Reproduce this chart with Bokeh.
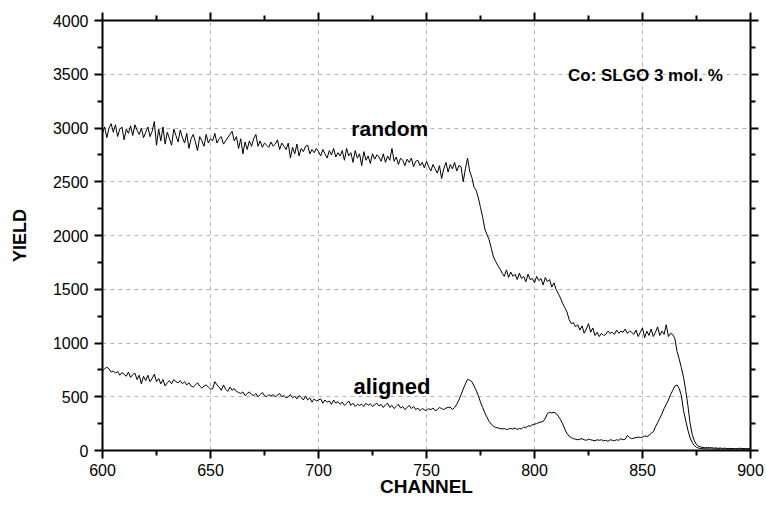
from bokeh.plotting import figure
from bokeh.models import LinearAxis, FixedTicker, Label, Range1d, CustomJSTickFormatter
from bokeh.embed import file_html
from bokeh.resources import INLINE

# RBS spectra of Co-implanted SLGO: random and channeling-aligned yield per channel
channel_start = 600
random_yield = [
    2950, 3010, 2910, 3000, 3040, 2960, 3030, 2920, 2990, 3010,
    2890, 2990, 2950, 3020, 2930, 3030, 2980, 2940, 3000, 2910,
    2960, 3010, 2920, 2970, 3060, 2840, 2990, 2880, 3010, 2850,
    2960, 2900, 2840, 2990, 2930, 2870, 2980, 2910, 2860, 2950,
    2810, 2900, 2940, 2870, 2790, 2920, 2880, 2830, 2940, 2860,
    2900, 2880, 2950, 2860, 2900, 2920, 2850, 2880, 2910, 2940,
    2970, 2880, 2920, 2810, 2900, 2760, 2870, 2800, 2880, 2830,
    2900, 2940, 2830, 2880, 2820, 2860, 2840, 2820, 2870, 2830,
    2850, 2890, 2800, 2860, 2830, 2800, 2860, 2720, 2820, 2760,
    2850, 2740, 2810, 2780, 2830, 2840, 2760, 2800, 2770, 2810,
    2780, 2740, 2800, 2760, 2720, 2790, 2750, 2810, 2730, 2770,
    2740, 2790, 2700, 2810, 2740, 2770, 2680, 2790, 2720, 2760,
    2650, 2780, 2700, 2740, 2670, 2760, 2710, 2750, 2730, 2690,
    2760, 2680, 2740, 2700, 2810, 2690, 2730, 2660, 2720, 2700,
    2650, 2710, 2680, 2720, 2640, 2690, 2700, 2650, 2680, 2630,
    2690, 2640, 2600, 2660, 2620, 2580, 2650, 2530, 2620, 2680,
    2590, 2660, 2620, 2680, 2600, 2650, 2640, 2500, 2620, 2720,
    2600, 2540, 2450, 2420, 2350, 2260, 2170, 2060, 2010, 1960,
    1880, 1800, 1760, 1720, 1690, 1650, 1620, 1680, 1610, 1660,
    1620, 1640, 1590, 1650, 1600, 1620, 1570, 1640, 1590, 1600,
    1560, 1620, 1580, 1600, 1540, 1610, 1570, 1590, 1520, 1560,
    1500, 1460, 1420, 1370, 1330, 1290, 1220, 1180, 1190, 1150,
    1170, 1120, 1160, 1090, 1130, 1180, 1100, 1140, 1070, 1100,
    1060, 1090, 1070, 1080, 1110, 1090, 1100, 1080, 1120, 1090,
    1110, 1100, 1130, 1090, 1110, 1100, 1080, 1120, 1060, 1100,
    1140, 1050, 1110, 1070, 1130, 1060, 1100, 1150, 1070, 1110,
    1080, 1170, 1060, 1090, 1080, 1040, 920, 850, 770, 680,
    560, 420, 260, 150, 90, 55, 40, 32, 28, 25,
    28, 25, 27, 22, 24, 20, 23, 19, 22, 18,
    20, 17, 19, 16, 18, 21, 17, 19, 15, 18,
    17,
]
aligned_yield = [
    740, 760, 775, 760, 730, 740, 720, 735, 700, 725,
    710, 690, 730, 680, 705, 720, 660, 700, 620, 690,
    650, 700, 640, 670, 710, 640, 670, 620, 660, 600,
    630, 650, 620, 660, 640, 630, 650, 620, 640, 610,
    630, 600, 590, 610, 630, 600, 580, 600, 610, 590,
    570, 575, 640, 610, 590, 560, 610, 570, 550, 590,
    560, 575, 550, 540, 530, 545, 510, 530, 545, 520,
    510, 530, 500, 520, 540, 510, 500, 520, 505, 520,
    500, 515, 530, 500, 510, 490, 500, 520, 490, 505,
    480, 510, 495, 470, 505, 470, 490, 450, 480, 460,
    470, 480, 440, 470, 450, 460, 430, 470, 440, 455,
    430, 450, 420, 440, 460, 420, 440, 410, 430, 420,
    430, 410, 440, 420, 435, 410, 425, 440, 415, 430,
    400, 425, 440, 400, 420, 390, 410, 430, 395, 410,
    380, 400, 420, 390, 410, 380, 395, 370, 390, 380,
    370, 390, 380, 395, 370, 380, 400, 390, 380, 395,
    400, 405, 380, 400, 430, 470, 520, 570, 620, 660,
    655, 640, 600, 560, 510, 450, 400, 350, 310, 270,
    245, 225, 215, 210, 205, 200, 205, 195, 200, 205,
    200, 210, 195, 205, 200, 220, 210, 230, 225, 240,
    245, 250, 260, 265, 270, 300, 345, 355, 350, 355,
    345, 320, 290, 250, 200, 160, 135, 120, 110, 105,
    100, 105, 110, 100, 95, 105, 100, 95, 90, 100,
    95, 100, 90, 95, 85, 100, 95, 90, 100, 95,
    110, 100, 105, 140, 120, 110, 115, 120, 125, 120,
    125, 135, 130, 140, 160, 175, 220, 260, 300, 340,
    390, 430, 470, 520, 560, 600, 610, 575, 510, 370,
    280, 190, 120, 75, 45, 30, 22, 18, 16, 15,
    16, 14, 15, 13, 14, 12, 14, 13, 12, 14,
    13, 12, 14, 12, 13, 11, 13, 12, 14, 12,
    12,
]
channels = list(range(channel_start, channel_start + len(random_yield)))

x_ticks = [600, 650, 700, 750, 800, 850, 900]
x_minor = [625, 675, 725, 775, 825, 875]
y_ticks = [0, 500, 1000, 1500, 2000, 2500, 3000, 3500, 4000]
y_minor = [250, 750, 1250, 1750, 2250, 2750, 3250, 3750]

FONT = "Liberation Sans"

p = figure(width=766, height=516, output_backend="svg", toolbar_location=None,
           x_range=Range1d(600, 900), y_range=Range1d(0, 4000),
           x_axis_label="CHANNEL", y_axis_label="YIELD",
           min_border_left=102, min_border_right=16,
           min_border_top=20, min_border_bottom=66)
p.outline_line_color = None
p.background_fill_color = "white"
p.border_fill_color = "white"

p.line(channels, random_yield, line_color="black", line_width=1)
p.line(channels, aligned_yield, line_color="black", line_width=1)


def style_axis(ax, ticks, minor, show_labels):
    ax.ticker = FixedTicker(ticks=ticks, minor_ticks=minor)
    ax.axis_line_width = 2
    ax.axis_line_color = "black"
    ax.major_tick_line_width = 2
    ax.minor_tick_line_width = 2
    ax.major_tick_out = 8
    ax.major_tick_in = 0
    ax.minor_tick_out = 5
    ax.minor_tick_in = 0
    ax.major_label_text_font = FONT
    ax.major_label_text_font_size = "16px"
    ax.major_label_text_color = "black"
    ax.axis_label_text_font = FONT
    ax.axis_label_text_font_style = "bold"
    ax.axis_label_text_font_size = "18px"
    ax.axis_label_text_color = "black"
    if not show_labels:
        # frame-side axes carry ticks only
        ax.formatter = CustomJSTickFormatter(code="return ''")
        ax.major_label_standoff = 0


style_axis(p.xaxis[0], x_ticks, x_minor, True)
style_axis(p.yaxis[0], y_ticks, y_minor, True)
p.xaxis[0].major_label_standoff = 5
p.yaxis[0].major_label_standoff = 6
p.xaxis[0].axis_label_text_font_size = "19px"
p.xaxis[0].axis_label_standoff = -3
p.yaxis[0].axis_label_standoff = 20

top_axis = LinearAxis()
style_axis(top_axis, x_ticks, x_minor, False)
p.add_layout(top_axis, "above")
right_axis = LinearAxis()
style_axis(right_axis, y_ticks, y_minor, False)
p.add_layout(right_axis, "right")

for g in (p.xgrid[0], p.ygrid[0]):
    g.grid_line_color = "#b4b4b4"
    g.grid_line_dash = "4 4"
    g.grid_line_width = 1
p.xgrid[0].ticker = FixedTicker(ticks=x_ticks)
p.ygrid[0].ticker = FixedTicker(ticks=y_ticks)

p.add_layout(Label(x=733, y=2995, text="random", text_font=FONT,
                   text_font_style="bold", text_font_size="21px",
                   text_color="black",
                   text_align="center", text_baseline="middle"))
p.add_layout(Label(x=734, y=595, text="aligned", text_font=FONT,
                   text_font_style="bold", text_font_size="22px",
                   text_color="black",
                   text_align="center", text_baseline="middle"))
p.add_layout(Label(x=815.5, y=3490, text="Co: SLGO 3 mol. %", text_font=FONT,
                   text_font_style="bold", text_font_size="17px",
                   text_color="black",
                   text_align="left", text_baseline="middle"))

open("out.html", "w").write(file_html(p, INLINE))
